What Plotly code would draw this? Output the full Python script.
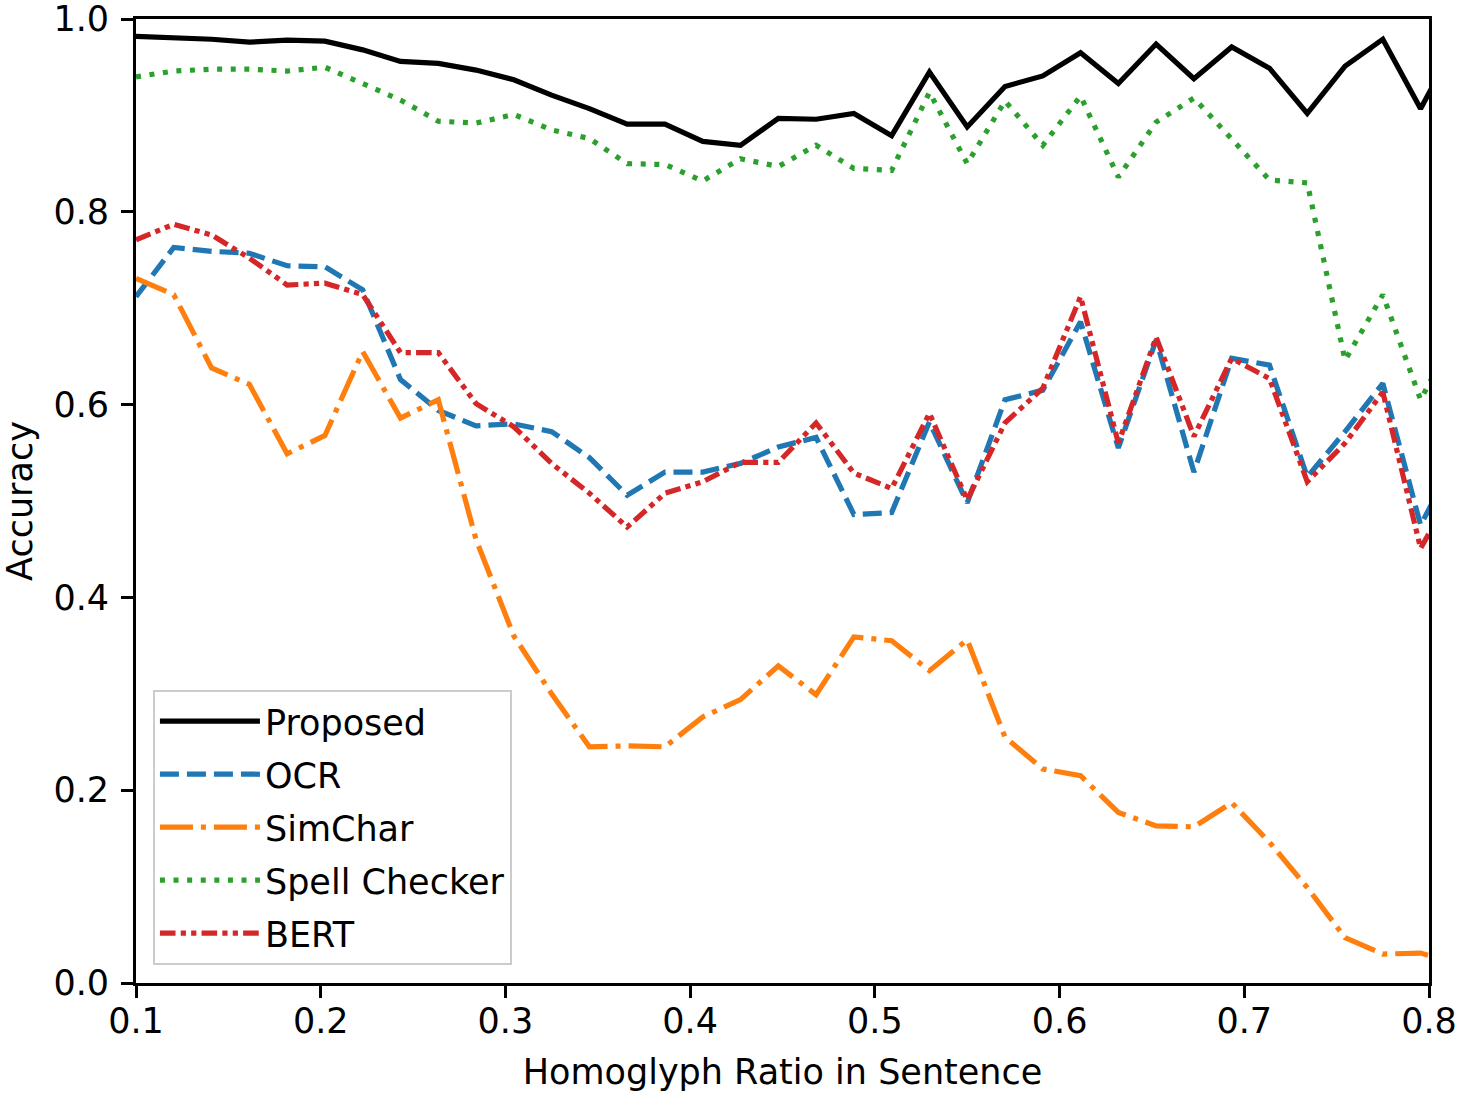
import plotly.graph_objects as go

ratio = [0.1, 0.12045, 0.14091, 0.16136, 0.18182, 0.20227, 0.22273, 0.24318, 0.26364,
         0.28409, 0.30455, 0.325, 0.34545, 0.36591, 0.38636, 0.40682, 0.42727, 0.44773,
         0.46818, 0.48864, 0.50909, 0.52955, 0.55, 0.57045, 0.59091, 0.61136, 0.63182,
         0.65227, 0.67273, 0.69318, 0.71364, 0.73409, 0.75455, 0.775, 0.79545, 0.81591]

proposed = [0.982, 0.981, 0.979, 0.976, 0.978, 0.977, 0.968, 0.956, 0.954, 0.947, 0.937, 0.921,
            0.907, 0.891, 0.891, 0.873, 0.869, 0.897, 0.896, 0.902, 0.879, 0.945, 0.888, 0.930,
            0.941, 0.965, 0.933, 0.974, 0.938, 0.971, 0.949, 0.902, 0.951, 0.979, 0.907, 0.98]

ocr = [0.712, 0.763, 0.759, 0.757, 0.744, 0.743, 0.719, 0.626, 0.594, 0.578, 0.580, 0.572,
       0.545, 0.506, 0.530, 0.530, 0.539, 0.556, 0.566, 0.486, 0.488, 0.582, 0.498, 0.605,
       0.615, 0.686, 0.555, 0.667, 0.530, 0.648, 0.641, 0.525, 0.572, 0.622, 0.475, 0.55]

simchar = [0.731, 0.714, 0.638, 0.621, 0.549, 0.568, 0.655, 0.586, 0.605, 0.46, 0.360, 0.300,
           0.245, 0.246, 0.245, 0.276, 0.294, 0.329, 0.299, 0.359, 0.355, 0.324, 0.356, 0.255,
           0.222, 0.215, 0.177, 0.163, 0.162, 0.187, 0.146, 0.099, 0.047, 0.030, 0.031, 0.02]

spell = [0.940, 0.946, 0.948, 0.948, 0.946, 0.950, 0.933, 0.916, 0.894, 0.892, 0.901, 0.885,
         0.876, 0.850, 0.849, 0.832, 0.855, 0.847, 0.869, 0.845, 0.843, 0.924, 0.850, 0.915,
         0.869, 0.920, 0.836, 0.893, 0.918, 0.876, 0.833, 0.830, 0.646, 0.714, 0.605, 0.68]

bert = [0.771, 0.787, 0.776, 0.752, 0.724, 0.726, 0.714, 0.654, 0.654, 0.601, 0.577, 0.539,
        0.508, 0.473, 0.508, 0.520, 0.540, 0.540, 0.581, 0.529, 0.513, 0.591, 0.501, 0.581,
        0.617, 0.712, 0.560, 0.670, 0.567, 0.648, 0.627, 0.520, 0.560, 0.613, 0.451, 0.52]

x_ticks = [0.1, 0.2, 0.3, 0.4, 0.5, 0.6, 0.7, 0.8]
y_ticks = [0.0, 0.2, 0.4, 0.6, 0.8, 1.0]

series = [
    ("Proposed", proposed, "#000000", "solid"),
    ("OCR", ocr, "#1f77b4", "19px,8px"),
    ("SimChar", simchar, "#ff7f0e", "33px,8px,5px,8px"),
    ("Spell Checker", spell, "#2ca02c", "5px,8.6px"),
    ("BERT", bert, "#d62728", "15.6px,5.2px,5.2px,5.2px,5.2px,5.2px"),
]

FONT = "DejaVu Sans"
FS = 35

fig = go.Figure()
for name, vals, color, dash in series:
    fig.add_trace(go.Scatter(
        x=ratio, y=vals, mode="lines", name=name, legendgroup=name,
        line=dict(color=color, width=5.2, dash=dash),
    ))

axis_common = dict(
    showgrid=False, zeroline=False, showline=True, linecolor="black", linewidth=2.8,
    mirror=True, ticks="outside", ticklen=12, tickwidth=2.8, tickcolor="black",
    tickfont=dict(family=FONT, size=FS, color="black"),
    ticklabeloverflow="allow",
)

fig.update_xaxes(range=[0.1, 0.8], tickvals=x_ticks, tickformat=".1f",
                 ticklabelstandoff=-7, automargin=False,
                 title=dict(text="Homoglyph Ratio in Sentence",
                            font=dict(family=FONT, size=FS, color="black"), standoff=20),
                 **axis_common)
fig.update_yaxes(range=[0, 1], tickvals=y_ticks, tickformat=".1f",
                 ticklabelstandoff=5, automargin="left",
                 title=dict(text="Accuracy",
                            font=dict(family=FONT, size=FS, color="black"), standoff=14),
                 **axis_common)

fig.update_layout(
    width=1461, height=1100,
    margin=dict(l=136, r=32, t=19, b=117),
    plot_bgcolor="white", paper_bgcolor="white",
    font=dict(family=FONT, size=FS, color="black"),
    legend=dict(
        x=0.0131, y=0.0187, xanchor="left", yanchor="bottom",
        bgcolor="rgba(255,255,255,0.8)", bordercolor="#cccccc", borderwidth=2,
        font=dict(family=FONT, size=FS, color="black"),
        itemwidth=100, tracegroupgap=4.5, traceorder="grouped",
    ),
)

# remove the browser's default 8px page margin so the figure fills the window
fig.write_html(
    "out.html",
    config={"displayModeBar": False},
    post_script="document.body.style.margin='0';document.body.style.overflow='hidden';",
)
